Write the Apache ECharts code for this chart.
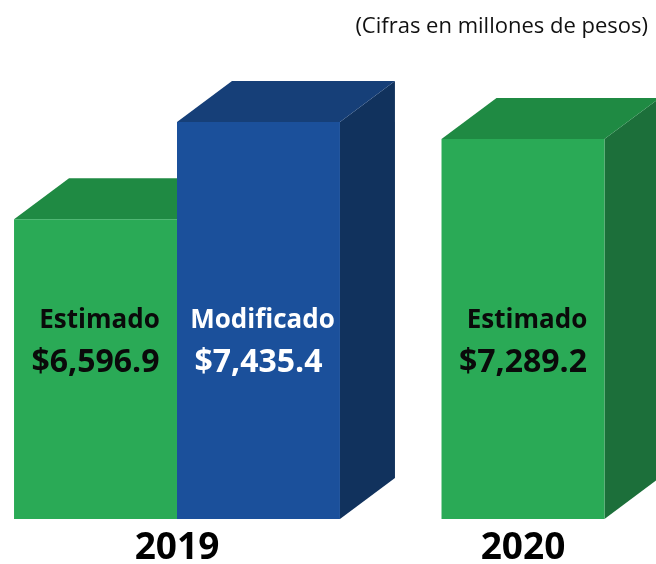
<!DOCTYPE html>
<html>
<head>
<meta charset="utf-8">
<title>Presupuesto</title>
<script src="https://cdn.jsdelivr.net/npm/echarts@6/dist/echarts.min.js"></script>
<style>
  html, body { margin: 0; padding: 0; background: #fff; }
  #main { width: 656px; height: 564px; }
</style>
</head>
<body>
<div id="main"></div>
<script>
// data
const years = ['2019', '2020']
const barYears = ['2019', '2019', '2020']
const barNames = ['Estimado', 'Modificado', 'Estimado']
const barValues = [6596.9, 7435.4, 7289.2]

const palette = {
  green: { front: '#2aaa56', top: '#1f8a43', side: '#1c6f3a', text: '#0a0a0a' },
  blue: { front: '#1b509b', top: '#163f78', side: '#11325d', text: '#ffffff' }
}
const barColors = ['green', 'blue', 'green']

const FONT = '"Open Sans", Lato, sans-serif'
const DEPTH_X = 55
const DEPTH_Y = -41
const BAR_FRAC = 0.471

const fmt = (v) => '$' + v.toLocaleString('en-US', { minimumFractionDigits: 1, maximumFractionDigits: 1 })

const renderItem = (params, api) => {
  const idx = params.dataIndex
  const year = barYears[idx]
  // position of this bar inside its year group
  const group = barYears.map((y, i) => (y === year ? i : -1)).filter((i) => i >= 0)
  const pos = group.indexOf(idx)
  const bandW = api.size([1, 0])[0]
  const w = bandW * BAR_FRAC
  const center = api.coord([api.value(0), api.value(1)])
  const base = api.coord([api.value(0), 4012])
  const x0 = center[0] + (pos - group.length / 2) * w
  const x1 = x0 + w
  const yTop = center[1]
  const yBot = base[1]
  const c = palette[barColors[idx]]
  const dx = DEPTH_X
  const dy = DEPTH_Y
  return {
    type: 'group',
    children: [
      {
        type: 'polygon',
        shape: { points: [[x1, yTop], [x1 + dx, yTop + dy], [x1 + dx, yBot + dy], [x1, yBot]] },
        style: { fill: c.side }
      },
      {
        type: 'polygon',
        shape: { points: [[x0, yTop], [x0 + dx, yTop + dy], [x1 + dx, yTop + dy], [x1, yTop]] },
        style: { fill: c.top }
      },
      {
        type: 'rect',
        shape: { x: x0, y: yTop, width: w, height: yBot - yTop },
        style: { fill: c.front }
      },
      {
        type: 'text',
        x: (x0 + x1) / 2 + 4,
        y: yBot - 198,
        style: {
          text: barNames[idx],
          fill: c.text,
          font: 'bold 26px ' + FONT,
          align: 'center',
          verticalAlign: 'middle'
        }
      },
      {
        type: 'text',
        x: (x0 + x1) / 2,
        y: yBot - 156,
        style: {
          text: fmt(barValues[idx]),
          fill: c.text,
          font: 'bold 32px ' + FONT,
          align: 'center',
          verticalAlign: 'middle'
        }
      }
    ]
  }
}

const chart = echarts.init(document.getElementById('main'))
chart.setOption({
  animation: false,
  title: {
    text: '(Cifras en millones de pesos)',
    right: 3,
    top: 11,
    textStyle: { fontFamily: FONT, fontSize: 22, fontWeight: 'normal', color: '#111' }
  },
  grid: { left: 177, right: 133, top: 60, bottom: 45, outerBoundsMode: 'none', containLabel: false },
  xAxis: {
    type: 'category',
    data: years,
    boundaryGap: false,
    axisLine: { show: false },
    axisTick: { show: false },
    splitLine: { show: false },
    axisLabel: {
      color: '#000',
      fontFamily: FONT,
      fontSize: 37,
      fontWeight: 'bold',
      margin: 11
    }
  },
  yAxis: {
    type: 'value',
    min: 4012,
    max: 7971,
    show: false
  },
  series: [{
    type: 'custom',
    renderItem,
    clip: false,
    data: barValues.map((v, i) => [barYears[i], v])
  }]
})
</script>
</body>
</html>
